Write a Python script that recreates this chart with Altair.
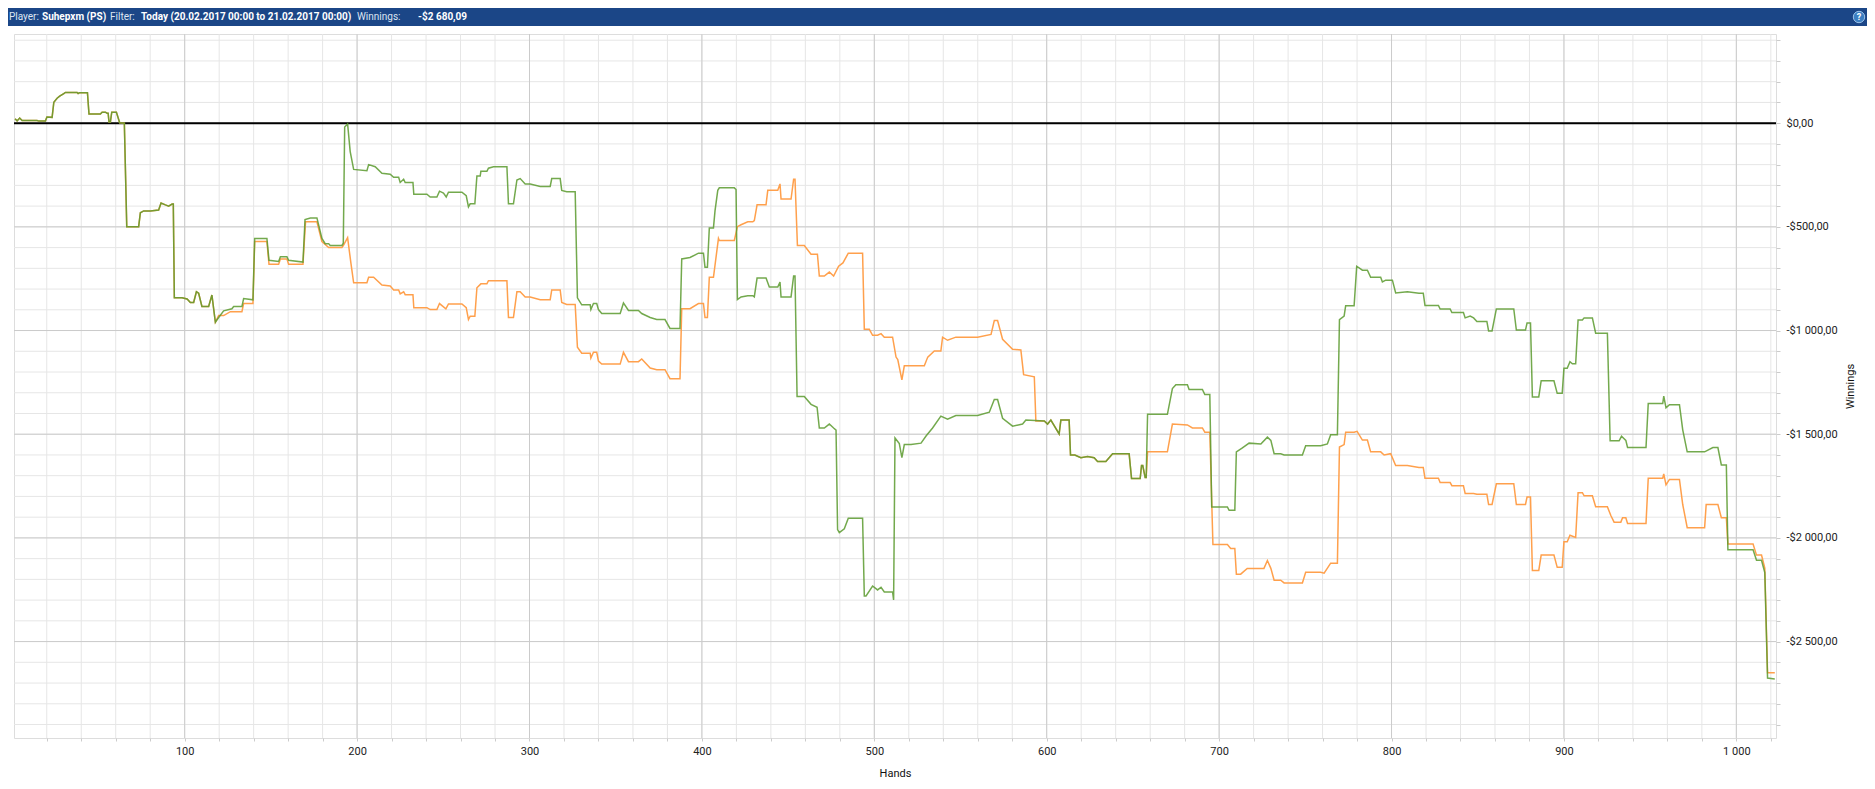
import altair as alt
import pandas as pd

# ---------------- data ----------------
common_start = [
    (1.6, 21), (2.8, 11), (4.3, 25), (5.7, 13), (14.4, 13), (15.4, 10), (19.2, 10), (20.1, 30),
    (23.1, 28), (24.1, 101), (26.0, 120), (27.5, 130), (29.9, 143), (30.8, 148), (37.6, 148),
    (38.2, 143), (39.1, 147), (43.6, 147), (44.5, 44), (51.1, 44), (52.1, 53), (54.0, 53),
    (55.0, 48), (55.6, 48), (56.1, 6), (56.9, 6), (57.7, 53), (60.4, 53), (62.3, 2), (65.0, 0),
    (66.4, -499), (73.3, -499), (74.3, -432), (76.2, -423), (80.1, -423), (84.9, -419),
    (86.3, -385), (88.8, -394), (90.7, -400), (92.7, -390), (93.4, -390), (94.0, -842),
    (98.5, -842), (101.4, -848), (103.3, -865), (105.2, -865), (106.8, -813), (108.1, -820),
    (110.0, -884), (113.9, -884), (115.8, -829), (117.8, -960),
]

green_part1 = [
    (119.7, -937), (122.6, -905), (127.4, -895), (128.4, -884), (133.2, -884), (134.2, -846),
    (139.6, -852), (140.6, -556), (147.7, -556), (148.9, -661), (154.5, -667), (155.5, -644),
    (159.3, -644), (160.3, -661), (168.6, -670), (169.8, -465), (172.9, -457), (176.7, -457),
    (179.6, -556), (181.5, -581), (183.5, -581), (184.4, -590), (191.2, -590), (192.0, -579),
    (192.8, -19), (194.5, -4), (196.0, -137), (198.0, -223), (205.7, -229), (206.7, -200),
    (210.5, -210), (214.4, -242), (219.2, -246), (221.2, -261), (224.1, -261), (225.0, -286),
    (227.0, -270), (227.9, -286), (232.4, -286), (232.9, -343), (240.5, -343), (242.4, -356),
    (246.3, -356), (247.8, -328), (250.1, -337), (251.7, -356), (253.0, -333), (260.8, -333),
    (263.3, -350), (264.6, -404), (265.6, -389), (268.3, -389), (269.5, -255), (271.4, -255),
    (271.8, -232), (275.3, -232), (276.2, -217), (279.1, -210), (286.9, -210), (287.8, -389),
    (290.7, -389), (292.7, -274), (294.6, -267), (297.5, -293), (300.4, -293), (306.2, -305),
    (312.0, -305), (312.9, -267), (317.8, -267), (318.7, -324), (321.6, -331), (326.5, -331),
    (327.8, -842), (330.3, -876), (335.2, -876), (335.6, -899), (337.1, -870), (339.0, -870),
    (340.0, -899), (341.9, -918), (352.6, -918), (354.5, -867), (357.4, -903), (363.2, -903),
    (365.1, -918), (370.0, -937), (373.8, -947), (378.6, -947), (381.5, -990), (387.3, -990),
    (388.3, -655), (393.1, -648), (398.0, -627), (400.9, -627), (401.8, -695), (403.2, -695),
    (404.3, -505), (406.7, -505), (407.6, -423), (409.2, -324), (410.1, -312), (418.8, -312),
    (419.8, -320), (420.6, -851), (422.7, -838), (426.6, -832), (429.5, -832), (430.4, -838),
    (432.0, -747), (437.2, -747), (439.1, -790), (444.0, -790), (445.3, -766), (445.9, -838),
    (451.7, -838), (453.2, -737), (454.0, -737), (455.2, -1318), (459.4, -1318), (463.3, -1356),
    (466.8, -1370), (468.1, -1470), (471.0, -1470), (473.9, -1451), (476.4, -1470), (477.8, -1480),
    (478.7, -1960), (479.7, -1975), (482.6, -1956), (484.9, -1905), (493.2, -1905), (494.2, -2280),
    (495.2, -2280), (499.0, -2232), (501.9, -2251), (503.9, -2238), (505.8, -2261), (510.6, -2261),
    (511.2, -2299), (512.0, -1518), (514.5, -1545), (516.0, -1613), (517.4, -1550), (521.3, -1550),
    (527.1, -1543), (530.0, -1509), (533.8, -1470), (538.6, -1413), (542.5, -1428), (547.3, -1410),
    (559.9, -1410), (566.7, -1394), (569.6, -1333), (571.5, -1333), (574.4, -1423), (580.2, -1461),
    (586.0, -1451), (587.9, -1432), (598.6, -1436), (600.5, -1451), (602.4, -1432), (607.2, -1499),
    (608.2, -1432), (613.0, -1432),
]

orange_part1 = [
    (119.7, -928), (122.6, -928), (126.5, -909), (133.2, -909), (134.2, -870), (139.6, -870),
    (140.6, -571), (147.7, -571), (148.9, -680), (154.5, -680), (155.5, -655), (159.3, -655),
    (160.3, -680), (168.6, -680), (170.1, -476), (176.7, -476), (179.6, -571), (183.5, -600),
    (191.2, -600), (192.0, -590), (194.5, -552), (196.4, -674), (198.0, -770), (205.7, -770),
    (206.7, -743), (209.6, -743), (214.4, -781), (219.2, -785), (221.2, -804), (224.1, -804),
    (225.0, -823), (227.0, -813), (227.9, -827), (232.4, -827), (232.9, -890), (240.5, -890),
    (242.4, -899), (246.3, -899), (247.8, -870), (251.5, -895), (253.0, -872), (260.8, -872),
    (263.3, -890), (264.6, -947), (265.6, -931), (268.3, -931), (269.5, -794), (271.8, -775),
    (275.3, -775), (276.2, -760), (286.9, -760), (287.8, -937), (290.7, -937), (292.7, -813),
    (294.6, -813), (297.5, -838), (300.4, -838), (306.2, -851), (312.0, -851), (312.9, -804),
    (317.8, -804), (318.7, -865), (321.6, -874), (326.5, -874), (327.8, -1080), (330.3, -1109),
    (335.2, -1109), (335.6, -1133), (337.1, -1105), (339.0, -1105), (340.0, -1147), (341.9, -1162),
    (352.6, -1162), (354.5, -1105), (357.4, -1150), (363.2, -1150), (365.1, -1137), (370.0, -1181),
    (373.8, -1189), (378.6, -1189), (381.5, -1232), (387.3, -1232), (388.3, -895), (393.1, -895),
    (398.0, -870), (400.9, -870), (401.8, -937), (403.2, -937), (404.3, -743), (406.7, -743),
    (409.6, -556), (410.1, -566), (418.8, -566), (420.6, -499), (422.7, -490), (426.6, -476),
    (429.5, -476), (430.4, -470), (432.0, -394), (437.2, -394), (438.2, -324), (444.0, -324),
    (445.3, -293), (445.9, -366), (451.7, -366), (453.2, -270), (454.0, -270), (455.4, -590),
    (459.4, -590), (463.3, -632), (467.0, -632), (468.1, -737), (471.0, -737), (473.9, -718),
    (476.4, -737), (479.3, -690), (481.8, -674), (484.9, -627), (493.2, -627), (494.2, -994),
    (497.1, -994), (499.0, -1023), (501.9, -1023), (503.9, -1015), (505.8, -1032), (510.6, -1032),
    (512.6, -1128), (513.6, -1140), (516.0, -1238), (517.4, -1170), (529.0, -1170), (531.0, -1128),
    (534.8, -1099), (538.6, -1099), (539.6, -1032), (542.5, -1047), (547.3, -1032), (559.9, -1032),
    (567.7, -1019), (569.6, -952), (571.5, -952), (574.4, -1042), (580.2, -1090), (585.0, -1094),
    (586.6, -1213), (592.8, -1223), (593.7, -1436), (598.6, -1436), (600.5, -1451), (602.4, -1432),
    (607.2, -1499), (608.2, -1432), (613.0, -1432),
]

common_mid = [
    (613.8, -1600), (616.3, -1600), (619.8, -1613), (623.7, -1607), (627.5, -1613), (629.5, -1632),
    (634.3, -1632), (638.2, -1594), (647.8, -1594), (649.2, -1714), (654.2, -1714), (655.0, -1651),
    (655.7, -1651), (657.1, -1709), (657.7, -1709),
]

green_part2 = [
    (658.5, -1404), (670.0, -1404), (672.9, -1280), (674.9, -1261), (681.6, -1261), (682.6, -1284),
    (690.3, -1284), (691.7, -1309), (694.6, -1309), (695.7, -1851), (704.8, -1851), (705.8, -1867),
    (709.1, -1867), (710.0, -1585), (713.5, -1566), (717.4, -1543), (724.2, -1547), (728.0, -1514),
    (730.0, -1530), (731.9, -1594), (735.7, -1594), (737.7, -1600), (748.3, -1600), (750.2, -1556),
    (758.9, -1556), (762.8, -1547), (764.7, -1503), (768.6, -1503), (769.8, -947), (772.5, -930),
    (773.4, -880), (778.3, -880), (779.8, -690), (783.1, -709), (786.0, -709), (787.9, -743),
    (793.7, -743), (794.7, -766), (796.6, -757), (800.5, -757), (802.4, -819), (809.2, -813),
    (815.9, -820), (818.4, -820), (819.4, -879), (827.2, -879), (828.2, -896), (834.0, -896),
    (835.0, -913), (841.7, -913), (842.7, -939), (845.6, -930), (847.6, -939), (849.5, -956),
    (855.3, -956), (856.3, -1002), (858.3, -1002), (860.8, -896), (870.9, -896), (872.4, -998),
    (877.7, -998), (878.6, -964), (880.6, -964), (881.7, -1320), (885.4, -1320), (886.8, -1242),
    (894.2, -1242), (896.1, -1303), (899.0, -1303), (900.0, -1182), (901.9, -1182), (903.5, -1150),
    (904.9, -1160), (906.8, -1160), (908.2, -949), (910.7, -949), (911.7, -939), (916.5, -939),
    (918.4, -1013), (925.2, -1013), (926.8, -1532), (932.0, -1532), (933.4, -1510), (935.9, -1530),
    (936.9, -1564), (947.6, -1564), (948.9, -1352), (957.3, -1352), (957.9, -1316), (959.2, -1373),
    (961.2, -1358), (967.0, -1358), (968.9, -1479), (971.5, -1585), (981.6, -1585), (986.4, -1564),
    (989.3, -1564), (991.3, -1648), (994.2, -1648), (995.1, -2057), (1009.7, -2057), (1011.7, -2108),
    (1014.6, -2108), (1016.5, -2167), (1018.1, -2676), (1022.3, -2680),
]

orange_part2 = [
    (658.5, -1585), (670.0, -1585), (672.9, -1451), (681.6, -1455), (684.5, -1470), (690.3, -1470),
    (691.7, -1490), (694.6, -1490), (696.4, -2032), (704.8, -2032), (706.7, -2051), (709.1, -2051),
    (710.0, -2175), (712.5, -2175), (716.3, -2147), (726.0, -2147), (728.0, -2109), (730.0, -2147),
    (731.9, -2204), (735.7, -2204), (737.7, -2217), (748.3, -2217), (750.2, -2166), (758.9, -2166),
    (760.9, -2170), (764.7, -2122), (768.6, -2122), (769.8, -1562), (772.5, -1550), (773.4, -1490),
    (778.3, -1490), (780.0, -1486), (783.1, -1528), (786.0, -1528), (787.9, -1585), (793.7, -1585),
    (795.7, -1600), (799.5, -1594), (802.4, -1651), (809.2, -1651), (815.9, -1660), (818.4, -1660),
    (819.4, -1712), (827.2, -1712), (828.2, -1733), (834.0, -1733), (835.0, -1748), (841.7, -1748),
    (842.7, -1786), (847.6, -1786), (849.5, -1790), (855.3, -1790), (856.3, -1839), (858.3, -1839),
    (860.8, -1739), (870.9, -1739), (872.4, -1839), (877.7, -1839), (878.6, -1803), (880.6, -1803),
    (881.7, -2157), (885.4, -2157), (886.8, -2083), (894.2, -2083), (896.1, -2142), (899.0, -2142),
    (900.0, -2019), (901.9, -2019), (903.5, -1987), (906.8, -1998), (908.2, -1782), (910.7, -1782),
    (911.7, -1797), (916.5, -1797), (918.4, -1850), (925.2, -1850), (927.2, -1892), (929.1, -1924),
    (933.0, -1924), (934.0, -1903), (935.9, -1903), (936.9, -1930), (947.6, -1930), (948.9, -1712),
    (957.3, -1712), (957.9, -1691), (959.2, -1744), (961.2, -1718), (967.0, -1718), (968.9, -1839),
    (971.5, -1951), (981.6, -1951), (982.5, -1839), (989.3, -1839), (991.3, -1903), (994.2, -1903),
    (995.1, -2030), (1009.7, -2030), (1011.7, -2083), (1014.6, -2083), (1016.5, -2146),
    (1018.1, -2650), (1022.3, -2650),
]

x_minor_ticks = list(range(20, 1021, 20))
x_major_ticks = list(range(100, 1001, 100))
y_minor_ticks = list(range(-2900, 401, 100))
y_major_ticks = list(range(-2500, 1, 500))

header_parts = ["Player:", "Suhepxm (PS)", "Filter:",
                "Today (20.02.2017 00:00 to 21.02.2017 00:00)", "Winnings:", "-$2 680,09"]

# ---------------- build ----------------
green = common_start + green_part1 + common_mid + green_part2
orange = common_start + orange_part1 + common_mid + orange_part2
df_green = pd.DataFrame(green, columns=["hand", "win"])
df_orange = pd.DataFrame(orange, columns=["hand", "win"])

W, H = 1762, 704
FONT = "Roboto"
xscale = alt.Scale(domain=[1, 1023], nice=False, zero=False)
yscale = alt.Scale(domain=[-2965, 430], nice=False, zero=False)

x_axis = alt.Axis(
    values=x_minor_ticks, format=",d", grid=False, domain=False, ticks=True, tickSize=3,
    tickColor="#cccccc",
    labelExpr="datum.value % 100 == 0 ? datum.label : ''",
    labelFont=FONT, labelFontSize=11, labelColor="#222222", labelPadding=4,
    labelOverlap=False, labelFlush=False,
    title="Hands", titleFont=FONT, titleFontSize=11, titleFontWeight="normal",
    titleColor="#111111", titleY=35, titleBaseline="middle",
)
y_axis = alt.Axis(
    orient="right", values=y_minor_ticks, format="$,.2f", grid=False, domain=False, ticks=True,
    tickSize=4, tickColor="#cccccc",
    labelExpr="datum.value % 500 == 0 ? datum.label : ''",
    labelFont=FONT, labelFontSize=11, labelColor="#222222", labelPadding=6,
    labelOverlap=False, labelFlush=False,
    title="Winnings", titleFont=FONT, titleFontSize=11, titleFontWeight="normal",
    titleColor="#111111", titleAngle=270, titleX=74, titleY=H / 2,
    titleAlign="center", titleBaseline="middle",
)


def X(field):
    return alt.X(field, scale=xscale, axis=x_axis)


def Y(field):
    return alt.Y(field, scale=yscale, axis=y_axis)


minor_v = alt.Chart(pd.DataFrame({"hand": x_minor_ticks})).mark_rule(
    color="#e6e6e6", strokeWidth=1).encode(x=X("hand:Q"))
minor_h = alt.Chart(pd.DataFrame({"win": y_minor_ticks})).mark_rule(
    color="#e6e6e6", strokeWidth=1).encode(y=Y("win:Q"))
major_v = alt.Chart(pd.DataFrame({"hand": x_major_ticks})).mark_rule(
    color="#cbcbcb", strokeWidth=1).encode(x=X("hand:Q"))
major_h = alt.Chart(pd.DataFrame({"win": y_major_ticks})).mark_rule(
    color="#cbcbcb", strokeWidth=1).encode(y=Y("win:Q"))
zero_line = alt.Chart(pd.DataFrame({"win": [0]})).mark_rule(
    color="#000000", strokeWidth=2).encode(y=Y("win:Q"))

orange_line = alt.Chart(df_orange).mark_line(color="#FFA04C", strokeWidth=1.5).encode(
    x=X("hand:Q"), y=Y("win:Q"))
green_line = alt.Chart(df_green).mark_line(color="#5A9A2E", strokeWidth=1.5, opacity=0.85).encode(
    x=X("hand:Q"), y=Y("win:Q"))

bar = alt.Chart(pd.DataFrame({"a": [0]})).mark_rect(color="#1B4687").encode(
    x=alt.value(-6), x2=alt.value(1853), y=alt.value(-26), y2=alt.value(-8))

header_x = [-5, 28, 96, 127, 343, 404]
header_bold = [False, True, False, True, False, True]
header_layers = []
for txt, hx, b in zip(header_parts, header_x, header_bold):
    header_layers.append(
        alt.Chart(pd.DataFrame({"t": [txt]})).mark_text(
            align="left", baseline="middle", font=FONT, fontSize=10,
            fontWeight="bold" if b else "normal",
            color="#ffffff" if b else "#dde5f2",
        ).encode(x=alt.value(hx), y=alt.value(-17), text="t:N")
    )

help_circle = alt.Chart(pd.DataFrame({"a": [0]})).mark_point(
    filled=True, shape="circle", size=130, color="#3C7FC2", opacity=1,
    stroke="#9cc3ea", strokeWidth=1).encode(x=alt.value(1845), y=alt.value(-17))
help_q = alt.Chart(pd.DataFrame({"t": ["?"]})).mark_text(
    font=FONT, fontSize=9, fontWeight="bold", color="#ffffff", baseline="middle", align="center"
).encode(x=alt.value(1845), y=alt.value(-17), text="t:N")

chart = alt.layer(
    minor_v, minor_h, major_v, major_h, zero_line, orange_line, green_line,
    bar, *header_layers, help_circle, help_q,
).properties(
    width=W, height=H,
    padding=0,
    background="#ffffff",
).configure_view(
    stroke="#c8c8c8", strokeWidth=1
).configure(
    locale={"number": {"decimal": ",", "thousands": " ", "grouping": [3],
                       "currency": ["$", ""], "minus": "-"}}
)

chart.save("out.html", embed_options={"renderer": "svg", "actions": False})
